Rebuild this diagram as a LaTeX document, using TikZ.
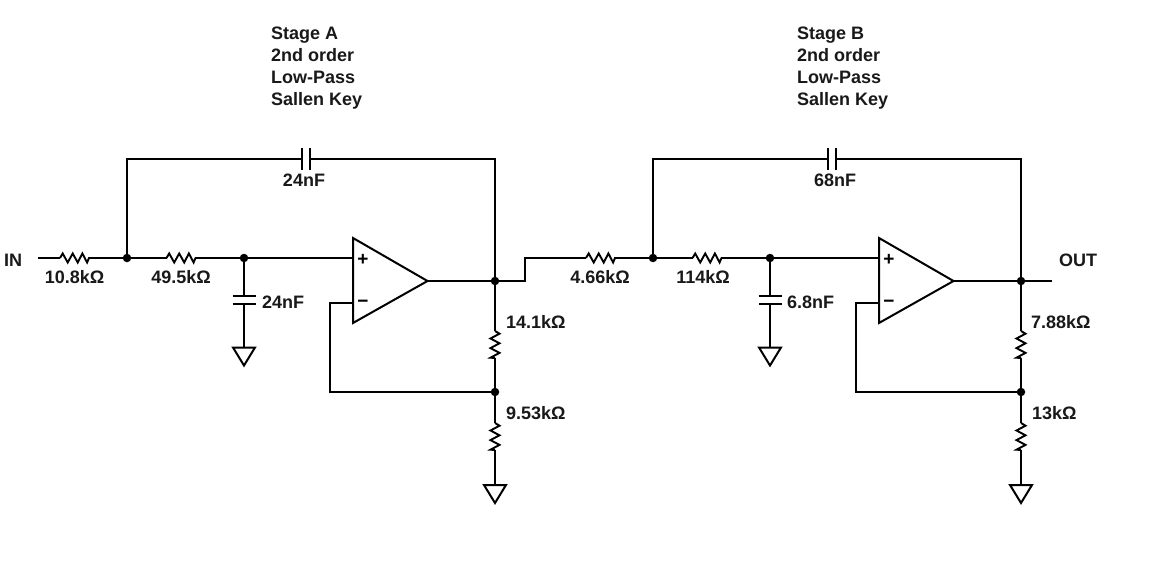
\documentclass[tikz,border=0pt]{standalone}
\usepackage{fontspec}
\setmainfont{Liberation Sans}
\usetikzlibrary{calc}
\tikzset{
  wire/.style={line width=2pt,black,line join=miter},
  dotnode/.style={circle,fill=black,draw=none,inner sep=0pt,minimum size=8.5pt},
  lab/.style={font=\fontsize{18pt}{20pt}\selectfont\bfseries,inner sep=0pt,text=black!90},
  labc/.style={lab,anchor=base},
  labw/.style={lab,anchor=base west},
  sign/.style={font=\fontsize{19pt}{20pt}\selectfont\bfseries,inner sep=0pt,anchor=center}
}
% horizontal resistor from a coordinate (28 long)
\newcommand{\hres}[1]{\draw[wire,line width=1.9pt] (#1) -- ++(2.7,-4.5) -- ++(5,9) -- ++(5,-9) -- ++(5,9) -- ++(4.7,-9) -- ++(4.7,9) -- ++(1.9,-4.5);}
% vertical resistor from a coordinate, going down (27 long)
\newcommand{\vres}[1]{\draw[wire,line width=1.9pt] (#1) -- ++(4.5,2.7) -- ++(-9,4.8) -- ++(9,4.8) -- ++(-9,4.8) -- ++(9,4.8) -- ++(-9,4.8) -- ++(4.5,0.3);}
% ground: from a coordinate at the top centre
\newcommand{\gnd}[1]{\draw[wire,line join=miter] ($(#1)+(-11,0)$) -- ($(#1)+(11,0)$) -- ($(#1)+(0,18)$) -- cycle;}
% #1 prefix, #2 xshift
\newcommand{\stagecircuit}[2]{%
\begin{scope}[xshift=#2pt]
  \coordinate (#1r1a) at (60,258);
  \coordinate (#1r1b) at (88,258);
  \node[dotnode] (#1j1) at (127,258) {};
  \coordinate (#1r2a) at (166.5,258);
  \coordinate (#1r2b) at (194.5,258);
  \node[dotnode] (#1j2) at (244,258) {};
  \coordinate (#1c1a) at (244,296);
  \coordinate (#1c1b) at (244,304);
  \coordinate (#1g1) at (244,347.5);
  \coordinate (#1tl) at (127,159);
  \coordinate (#1tr) at (495,159);
  \coordinate (#1c2a) at (302,159);
  \coordinate (#1c2b) at (310,159);
  \coordinate (#1oaTL) at (353,238);
  \coordinate (#1oaBL) at (353,323);
  \coordinate (#1oaO) at (427.5,281);
  \coordinate (#1inp) at (353,258);
  \coordinate (#1inm) at (353,303);
  \coordinate (#1fb1) at (330,303);
  \coordinate (#1fb2) at (330,392);
  \node[dotnode] (#1j3) at (495,281) {};
  \node[dotnode] (#1j4) at (495,392) {};
  \coordinate (#1r3a) at (495,331);
  \coordinate (#1r3b) at (495,358);
  \coordinate (#1r4a) at (495,423);
  \coordinate (#1r4b) at (495,450);
  \coordinate (#1g2) at (495,485);
  % wiring
  \draw[wire] (#1r1b) -- (#1j1);
  \draw[wire] (#1j1) -- (#1r2a);
  \draw[wire] (#1r2b) -- (#1j2);
  \draw[wire] (#1j2) -- (#1inp);
  \draw[wire] (#1j1) -- (#1tl) -- (#1c2a);
  \draw[wire] (#1c2b) -- (#1tr) -- (#1j3);
  \draw[wire] (#1j2) -- (#1c1a);
  \draw[wire] (#1c1b) -- (#1g1);
  \draw[wire] (#1oaO) -- (#1j3);
  \draw[wire] (#1j3) -- (#1r3a);
  \draw[wire] (#1r3b) -- (#1j4);
  \draw[wire] (#1j4) -- (#1r4a);
  \draw[wire] (#1r4b) -- (#1g2);
  \draw[wire] (#1inm) -- (#1fb1) -- (#1fb2) -- (#1j4);
  % parts
  \hres{#1r1a}\hres{#1r2a}\vres{#1r3a}\vres{#1r4a}
  \gnd{#1g1}\gnd{#1g2}
  \draw[wire] ($(#1c1a)+(-11.5,0)$) -- ($(#1c1a)+(11.5,0)$);
  \draw[wire] ($(#1c1b)+(-11.5,0)$) -- ($(#1c1b)+(11.5,0)$);
  \draw[wire] ($(#1c2a)+(0,-11)$) -- ($(#1c2a)+(0,11)$);
  \draw[wire] ($(#1c2b)+(0,-11)$) -- ($(#1c2b)+(0,11)$);
  \draw[wire,fill=white] (#1oaTL) -- (#1oaO) -- (#1oaBL) -- cycle;
  \node[sign] (#1plus) at (363,259.5) {+};
  \node[sign] (#1minus) at (363,304) {\textminus};
\end{scope}}
\begin{document}
\begin{tikzpicture}[x=1pt,y=-1pt]
\useasboundingbox (0,0) rectangle (1165,575);
\fill[white] (0,0) rectangle (1165,575);
\coordinate (instart) at (38,258);
\coordinate (bend1) at (525,281);
\coordinate (bend2) at (525,258);
\coordinate (outend) at (1052,281);
\stagecircuit{a}{0}
\stagecircuit{b}{526}
\draw[wire] (instart) -- (ar1a);
\draw[wire] (aj3) -- (bend1) -- (bend2) -- (br1a);
\draw[wire] (bj3) -- (outend);
% stage texts
\foreach \nm/\xx/\st in {ta/271/A,tb/797/B}{
  \node[labw] (\nm1) at (\xx,40) {Stage \st};
  \node[labw] (\nm2) at (\xx,62) {2nd order};
  \node[labw] (\nm3) at (\xx,84) {Low-Pass};
  \node[labw] (\nm4) at (\xx,106) {Sallen Key};
}
\node[labw] (lin) at (4,266) {IN};
\node[labw] (lout) at (1059,266) {OUT};
\node[labc] (l1) at (74.5,283) {10.8kΩ};
\node[labc] (l2) at (181,283) {49.5kΩ};
\node[labc] (l3) at (304,186) {24nF};
\node[labw] (l4) at (262,308) {24nF};
\node[labw] (l5) at (506,328) {14.1kΩ};
\node[labw] (l6) at (506,419) {9.53kΩ};
\node[labc] (l7) at (600,283) {4.66kΩ};
\node[labc] (l8) at (703,283) {114kΩ};
\node[labc] (l9) at (835,186) {68nF};
\node[labw] (l10) at (787,308) {6.8nF};
\node[labw] (l11) at (1031,328) {7.88kΩ};
\node[labw] (l12) at (1032,419) {13kΩ};
\end{tikzpicture}
\end{document}
